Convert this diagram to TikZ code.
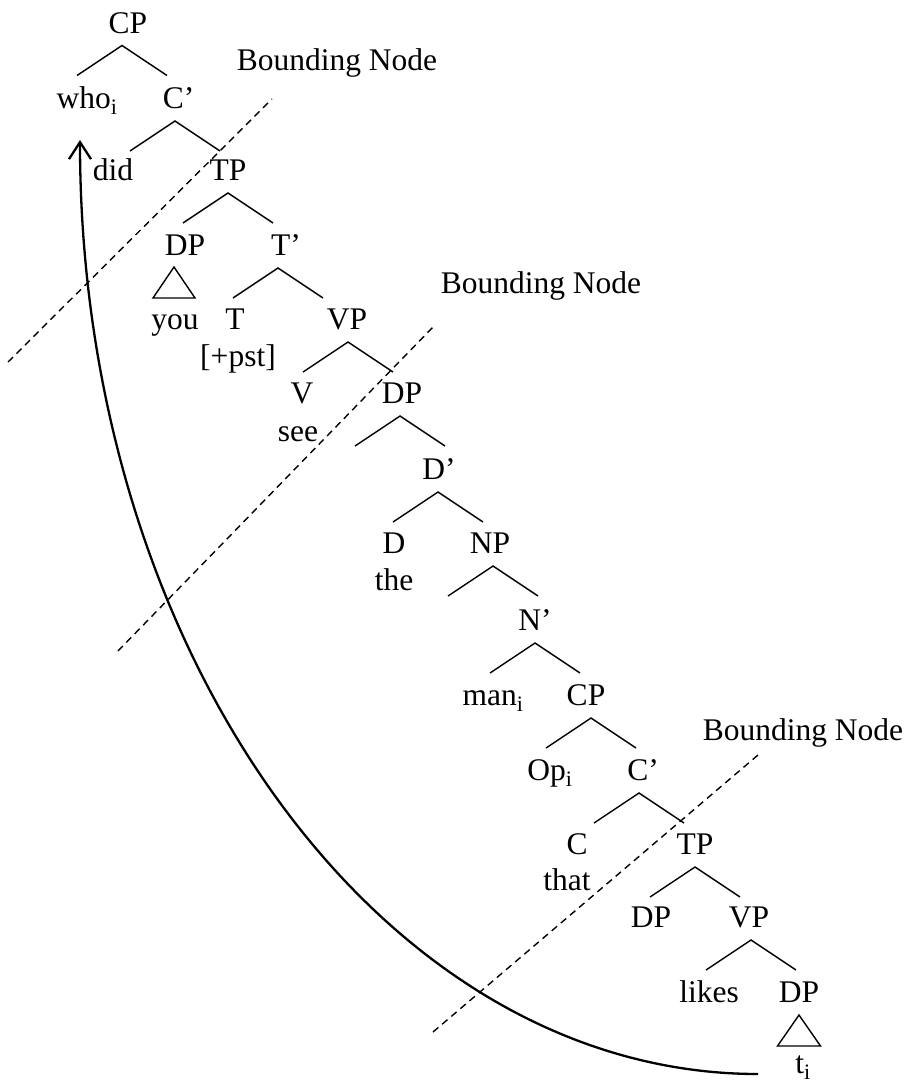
\documentclass[tikz,border=0pt]{standalone}
\usepackage{fontspec}
\setmainfont{Liberation Serif}
\usetikzlibrary{arrows.meta}
\newcommand\vbranch[2][0]{\draw[treeline] ([shift={(#1-45,-42.5)}]#2.base) -- ([shift={(#1,-12.5)}]#2.base) -- ([shift={(#1+45,-42.5)}]#2.base);}
\begin{document}
\begin{tikzpicture}[x=1pt,y=1pt,
  lab/.style={anchor=base,inner sep=0pt,font=\fontsize{31.5pt}{36pt}\selectfont},
  treeline/.style={line width=1.4pt},
  bound/.style={line width=1.4pt,dash pattern=on 7pt off 5pt},
  move/.style={line width=2.3pt,-{Straight Barb[length=17pt,width=22pt,line width=2.3pt]}}]
\useasboundingbox (0,0) rectangle (910,-1082);
% nodes
\node[lab] (cp0) at (128,-33) {CP};
\node[lab] (who) at (87,-108.5) {who\textsubscript{i}};
\node[lab] (cb1) at (178.5,-108.5) {C’};
\node[lab] (did) at (113,-180.5) {did};
\node[lab] (tp1) at (228,-180.5) {TP};
\node[lab] (dp1) at (185,-255.5) {DP};
\node[lab] (tb1) at (286,-255.5) {T’};
\node[lab] (you) at (175,-329.5) {you};
\node[lab] (t1) at (235,-329.5) {T};
\node[lab] (vp1) at (347,-329.5) {VP};
\node[lab] (pst) at (238,-366) {[+pst]};
\node[lab] (v1) at (302,-403.5) {V};
\node[lab] (see) at (298,-441) {see};
\node[lab] (dp2) at (402,-403.5) {DP};
\node[lab] (db) at (439,-479.5) {D’};
\node[lab] (d) at (394,-553.5) {D};
\node[lab] (the) at (394,-590) {the};
\node[lab] (np) at (490,-553.5) {NP};
\node[lab] (nb) at (535,-630.5) {N’};
\node[lab] (man) at (493,-705.5) {man\textsubscript{i}};
\node[lab] (cp2) at (586,-705.5) {CP};
\node[lab] (op) at (550,-780.5) {Op\textsubscript{i}};
\node[lab] (cb2) at (643,-780.5) {C’};
\node[lab] (c2) at (577,-854.5) {C};
\node[lab] (that) at (567,-890) {that};
\node[lab] (tp2) at (695,-854.5) {TP};
\node[lab] (dp3) at (651,-927.5) {DP};
\node[lab] (vp2) at (749,-927.5) {VP};
\node[lab] (likes) at (709,-1002.5) {likes};
\node[lab] (dp4) at (799,-1002.5) {DP};
\node[lab] (trace) at (803,-1073) {t\textsubscript{i}};
\node[lab] (bn1) at (337,-70.5) {Bounding Node};
\node[lab] (bn2) at (541,-293.5) {Bounding Node};
\node[lab] (bn3) at (803,-740.5) {Bounding Node};
% branches
\vbranch[-6]{cp0}
\vbranch[-3.5]{cb1}
\vbranch{tp1}
\vbranch[-8]{tb1}
\vbranch[1]{vp1}
\vbranch[-2]{dp2}
\vbranch[-1]{db}
\vbranch[3]{np}
\vbranch{nb}
\vbranch[5]{cp2}
\vbranch[-4]{cb2}
\vbranch{tp2}
\vbranch[2]{vp2}
% triangles
\draw[treeline] ([shift={(-11,-11.5)}]dp1.base) -- ++(-21,-31) -- ++(42,0) -- cycle;
\draw[treeline] ([shift={(0,-12.5)}]dp4.base) -- ++(-21.5,-31) -- ++(43,0) -- cycle;
% bounding lines
\coordinate (b1a) at (8,-362);
\coordinate (b1b) at (272,-99);
\coordinate (b2a) at (118,-651);
\coordinate (b2b) at (433,-327);
\coordinate (b3a) at (433,-1032);
\coordinate (b3b) at (758,-755);
\draw[bound] (b1a) -- (b1b);
\draw[bound] (b2a) -- (b2b);
\draw[bound] (b3a) -- (b3b);
% movement arrow
\coordinate (mv) at (758,-1074);
\draw[move] (mv) arc[start angle=270,end angle=180,x radius=678pt,y radius=934pt];
\end{tikzpicture}
\end{document}
